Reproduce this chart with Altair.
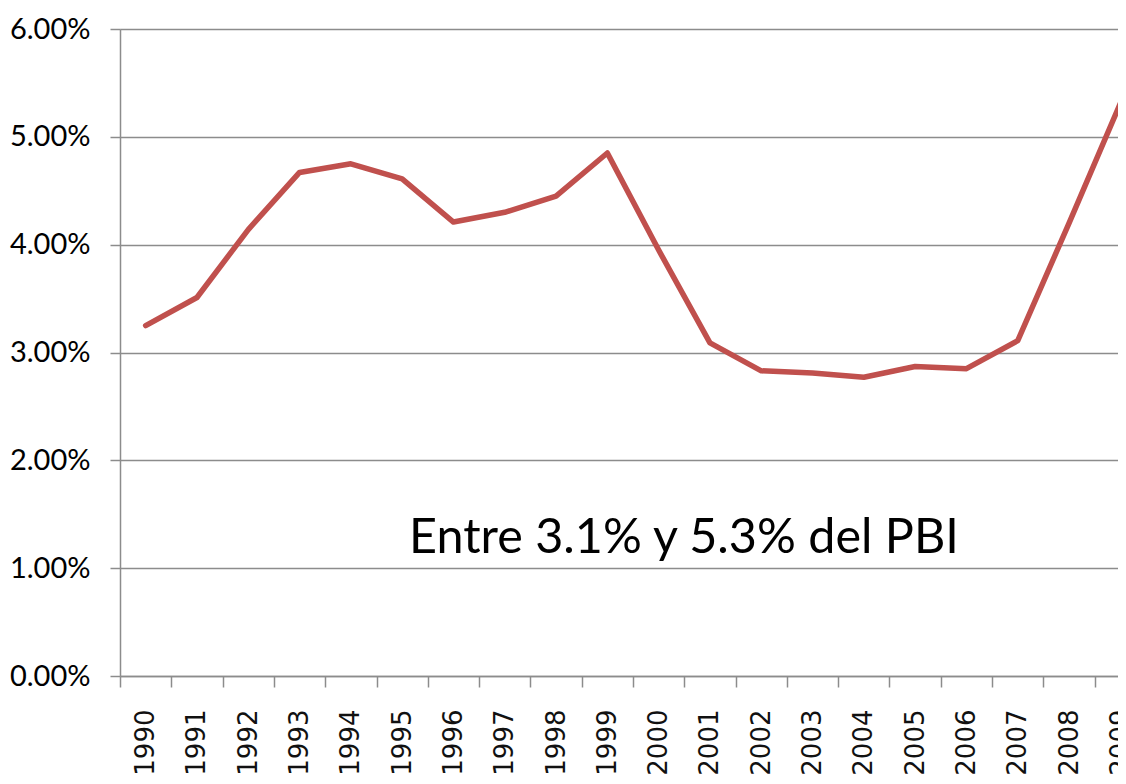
import altair as alt
import pandas as pd

years = [str(y) for y in range(1990, 2010)]
values = [3.25, 3.51, 4.14, 4.67, 4.75, 4.61, 4.21, 4.30, 4.45, 4.85,
          3.95, 3.09, 2.83, 2.81, 2.77, 2.87, 2.85, 3.11, 4.20, 5.31]
y_ticks = [0, 0.01, 0.02, 0.03, 0.04, 0.05, 0.06]
annotation = ["Entre 3.1% y 5.3% del PBI"]

df = pd.DataFrame({"year": years, "share": [v / 100 for v in values]})

grey = "#8c8c8c"

line = alt.Chart(df).mark_line(color="#C0504D", strokeWidth=5.5, strokeJoin="round", strokeCap="round").encode(
    x=alt.X("year:N", sort=years,
            scale=alt.Scale(range=[0, 1026], paddingInner=0, paddingOuter=0),
            axis=alt.Axis(title=None, labelAngle=-90, labelFont="DejaVu Sans", labelFontSize=26,
                          labelFontWeight="normal",
                          labelColor="#111111", labelAlign="right", labelBaseline="middle",
                          tickBand="extent", tickSize=11, tickColor=grey, tickWidth=1.5,
                          domainColor=grey, domainWidth=1.5, labelPadding=22, grid=False)),
    y=alt.Y("share:Q", scale=alt.Scale(domain=[0, 0.06], nice=False),
            axis=alt.Axis(title=None, format=".2%", values=y_ticks, labelFont="Lato", labelFontSize=29,
                          labelColor="#000000", tickSize=10, tickColor=grey, tickWidth=1.5,
                          domainColor=grey, domainWidth=1.5, labelPadding=20,
                          gridColor=grey, gridWidth=1.5)),
)

text = alt.Chart(pd.DataFrame({"t": annotation})).mark_text(
    font="Lato", fontSize=48.5, color="#000000", align="center", baseline="alphabetic"
).encode(text="t:N", x=alt.value(564), y=alt.value(524))

chart = (line + text).properties(
    width=998, height=647,
    autosize=alt.AutoSizeParams(type="none"),
    padding={"left": 112, "top": 21, "right": 0, "bottom": 100},
).configure_view(stroke=None).configure(background="#ffffff")

chart.save("out.html", embed_options={"renderer": "svg", "actions": False})
